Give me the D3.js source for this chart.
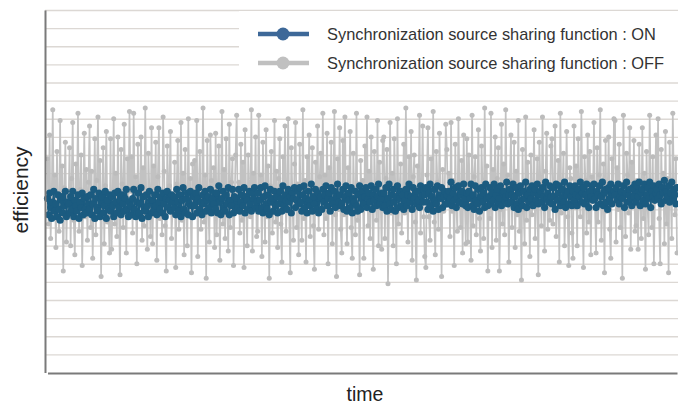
<!DOCTYPE html>
<html><head><meta charset="utf-8">
<script src="https://cdn.jsdelivr.net/npm/d3@7"></script>
<style>html,body{margin:0;padding:0;background:#fff;}svg{display:block;font-family:"Liberation Sans",Arial,Helvetica,sans-serif;}</style>
</head><body>
<script>
const seriesNames = ["Synchronization source sharing function : ON", "Synchronization source sharing function : OFF"];
const axisLabels = {x: "time", y: "efficiency"};
const gridTicks = [1,2,3,4,5,6,7,8,9,10,11,12,13,14,15,16,17,18,19,20];

const offValues = [
11.8,8.2,13.1,7.4,9.6,14.5,8.8,10.9,6.9,12.2,9.1,7.8,13.9,8.5,11.4,5.6,10.2,12.7,7.2,9.9,
9.2,12.4,7.0,10.7,13.8,8.4,6.5,11.5,9.9,14.3,7.8,10.1,12.0,5.9,9.4,13.2,8.6,11.2,7.3,10.5,
13.6,8.0,11.1,6.3,9.4,12.9,7.6,10.6,14.1,8.9,11.7,5.3,9.8,12.4,7.1,10.3,13.3,8.3,9.0,6.6,
12.9,6.8,9.7,14.0,8.2,11.0,7.5,13.0,9.1,5.4,12.3,10.4,8.0,13.7,9.5,6.6,11.8,8.9,14.4,10.0,
11.9,7.7,14.3,9.3,10.8,6.0,12.6,8.6,9.7,13.0,7.3,11.3,8.1,14.6,9.5,6.8,12.1,10.0,7.5,13.5,
7.1,11.4,9.3,12.7,6.2,10.8,13.5,8.5,9.8,7.6,14.1,11.1,8.1,5.6,12.5,9.6,10.3,13.3,7.4,9.0,
8.7,11.6,5.8,10.4,12.8,7.9,9.2,13.8,8.4,11.0,6.5,12.3,9.6,7.0,14.0,8.8,10.7,5.5,11.5,9.1,
11.7,8.7,13.9,6.4,10.2,12.2,7.9,9.5,14.6,8.3,10.9,5.2,12.8,9.2,7.2,13.1,10.6,8.8,11.3,6.9,
13.2,7.6,10.1,12.5,6.2,9.9,14.4,8.2,11.2,7.4,12.9,9.4,6.7,13.7,8.0,10.5,11.8,5.9,9.3,12.0,
14.2,9.0,10.5,7.7,12.6,8.4,11.6,5.8,13.4,9.7,7.0,12.0,10.1,8.6,14.5,6.7,11.0,9.3,13.0,7.5,
7.8,14.2,8.9,10.9,6.4,12.7,9.7,7.2,13.4,8.6,11.4,5.2,10.3,12.2,7.7,9.0,13.9,8.3,11.1,6.9,
10.7,12.9,8.2,6.1,11.9,9.4,13.6,7.8,10.0,14.0,8.9,5.5,12.4,9.9,7.3,11.5,13.8,8.0,10.4,6.5,
12.6,9.5,7.3,14.5,8.5,10.6,6.1,11.9,9.8,13.1,7.5,10.0,12.4,8.1,5.7,11.6,9.2,13.6,7.9,10.8,
12.1,9.1,14.3,7.6,10.9,8.5,13.2,6.0,11.3,9.6,12.7,7.1,10.2,14.4,8.7,5.3,11.8,9.0,13.5,7.9,
6.6,12.8,8.7,14.1,9.4,7.1,11.3,10.2,13.3,8.0,6.3,12.1,9.6,7.6,14.3,8.4,10.4,5.4,11.7,9.0,
10.6,6.3,12.5,9.3,14.1,8.1,11.1,7.4,13.0,9.8,5.7,12.2,10.0,8.4,13.9,7.0,11.6,9.5,6.8,12.8,
13.0,7.4,10.7,12.3,4.9,9.3,13.8,8.8,11.0,7.0,12.9,9.9,6.0,14.0,8.2,10.1,11.5,7.7,9.5,12.6,
8.8,14.6,10.3,7.2,11.9,9.1,13.3,6.2,10.8,12.0,8.3,5.1,11.4,9.7,14.2,7.7,10.1,13.6,8.6,6.4,
5.8,10.9,13.5,8.6,7.3,11.8,9.1,14.4,8.3,6.5,12.2,10.5,7.9,13.2,9.7,5.3,11.2,8.9,10.0,13.7,
12.3,9.4,11.0,7.5,13.8,8.9,10.6,5.9,12.6,9.2,7.8,14.0,10.4,8.0,11.7,6.6,13.1,9.6,7.1,12.9,
7.2,12.0,9.4,6.2,14.2,8.1,10.8,11.9,7.6,9.8,13.4,8.5,6.7,12.5,10.3,7.4,14.6,9.2,11.4,5.6,
10.2,8.5,14.3,6.9,11.2,9.9,13.0,7.3,10.7,12.4,5.6,9.0,13.7,8.2,11.5,7.6,14.5,9.5,10.9,6.1,
10.6,13.1,8.0,9.6,12.7,6.9,11.1,8.7,13.9,7.8,10.2,5.1,12.3,9.0,7.1,14.1,8.4,11.6,9.9,6.4,
12.0,8.7,10.0,13.4,7.4,9.3,11.8,5.4,12.7,10.5,8.1,14.1,9.8,6.7,11.1,13.2,7.9,10.3,8.4,12.5,
12.9,8.2,10.4,13.6,7.5,9.3,11.7,6.1,14.3,8.8,10.1,12.1,7.0,9.7,13.3,8.6,5.9,11.3,10.7,7.7,
6.3,13.6,9.1,11.4,7.0,12.9,10.1,8.6,14.4,9.4,5.8,11.9,10.6,7.7,13.1,8.3,12.2,6.5,10.8,9.7,
13.8,9.1,6.6,12.4,8.3,10.9,14.5,7.3,9.5,11.5,5.5,12.8,8.9,10.0,13.0,7.9,6.3,11.8,9.4,14.0,
13.9,7.2,11.3,9.0,12.6,8.0,10.4,5.2,14.2,9.6,7.5,12.1,10.9,8.8,13.5,6.8,11.6,9.2,12.8,7.8,
8.1,10.6,6.8,12.6,9.8,7.4,13.5,8.5,11.0,5.7,12.2,9.2,7.6,14.2,10.3,8.0,11.9,6.0,9.6,13.1,
10.0,14.0,8.5,6.0,12.3,9.5,11.0,7.1,13.3,8.2,10.7,5.5,12.7,9.9,7.4,14.3,10.2,8.7,11.8,6.6
];

const onValues = [
9.6,8.7,9.9,9.1,8.5,9.4,10.0,8.9,9.3,8.6,9.8,9.0,8.4,9.5,9.7,8.8,9.2,10.0,8.6,9.4,
9.3,8.8,9.7,9.0,10.0,8.6,9.5,9.2,8.9,9.8,8.5,9.4,9.1,9.9,8.7,9.6,9.0,8.8,9.7,9.3,
9.0,9.8,8.7,9.3,10.1,8.5,9.6,9.1,8.9,9.9,8.6,9.4,9.7,8.8,9.2,10.0,8.5,9.5,9.0,9.8,
8.9,9.7,9.2,8.6,9.9,9.4,8.8,10.0,9.1,9.5,8.7,9.8,9.3,8.9,9.6,10.1,9.0,8.6,9.4,9.2,
8.7,9.6,10.1,9.0,8.6,9.4,9.9,8.8,9.3,10.2,8.5,9.7,9.1,8.9,9.8,9.2,8.6,10.0,9.5,8.8,
9.5,8.9,9.8,9.2,8.7,10.1,9.4,9.0,9.7,8.8,9.9,9.3,8.6,9.6,10.0,9.1,9.5,8.9,9.8,9.4,
9.7,9.1,8.7,10.1,9.4,8.9,9.8,8.6,9.5,10.2,9.0,8.8,9.6,9.9,8.7,9.3,10.0,9.2,8.6,9.7,
9.2,9.9,8.8,9.6,10.2,9.0,9.4,8.7,9.8,9.3,10.0,8.9,9.5,9.7,9.1,10.1,8.8,9.6,9.3,9.9,
9.0,9.9,8.8,10.3,9.4,8.7,9.6,10.0,9.1,8.9,9.8,9.3,10.2,8.7,9.5,9.2,10.1,8.8,9.7,9.0,
9.6,9.1,10.1,8.9,9.4,9.8,9.2,10.2,8.8,9.7,9.5,9.0,10.0,9.3,8.9,9.9,9.6,10.2,9.1,9.4,
9.9,8.9,9.5,10.2,9.1,8.8,9.7,10.3,9.3,9.0,9.8,8.7,10.1,9.4,9.6,8.9,10.0,9.2,9.7,8.8,
9.3,10.0,9.6,8.9,10.3,9.2,9.8,9.5,9.0,10.1,9.4,9.7,8.8,9.9,9.6,10.2,9.1,9.5,10.0,9.3,
10.2,9.4,8.9,9.8,10.3,9.1,9.6,8.8,10.0,9.5,9.2,10.4,8.9,9.7,9.3,10.1,9.0,9.9,8.8,9.6,
9.7,9.0,10.1,9.4,9.8,10.3,9.2,9.6,9.9,8.9,10.2,9.5,9.3,10.0,9.1,9.7,10.4,9.4,9.8,9.2,
9.3,10.1,9.0,9.7,10.3,8.9,9.5,9.9,9.1,10.2,8.8,9.6,9.4,10.0,9.2,8.9,9.8,10.3,9.0,9.6,
10.0,9.3,9.7,10.2,9.1,9.6,9.9,9.4,10.3,9.0,9.8,9.5,10.1,9.2,9.7,10.4,9.3,9.6,9.9,9.1,
9.9,9.2,10.2,8.9,9.6,10.4,9.3,9.0,9.8,10.1,9.4,8.9,9.7,10.3,9.1,9.6,10.0,9.2,9.8,9.0,
9.5,10.1,9.2,9.8,10.4,9.4,9.7,9.0,10.2,9.6,9.9,9.3,10.0,9.5,9.1,10.3,9.7,9.4,10.1,9.8,
10.2,9.4,9.0,9.9,10.4,9.2,9.7,8.9,10.1,9.5,9.3,10.3,9.0,9.8,9.6,10.2,9.1,9.7,10.0,9.3,
9.8,9.3,10.0,9.6,10.5,9.2,9.9,9.5,10.2,9.1,9.7,10.3,9.4,9.8,10.0,9.3,10.4,9.6,9.2,9.9,
9.1,10.0,9.6,10.4,9.2,9.8,9.0,10.3,9.5,9.3,10.1,8.9,9.7,10.2,9.4,9.9,9.1,10.4,9.6,9.2,
9.7,10.2,9.3,9.9,9.5,10.4,9.1,9.8,10.1,9.4,9.6,10.3,9.2,9.9,10.0,9.5,9.7,10.5,9.3,9.8,
10.1,9.4,9.8,10.4,9.1,9.7,10.2,9.3,9.0,9.9,10.3,9.5,9.2,10.0,9.6,10.5,9.1,9.8,9.4,10.1,
9.6,10.3,9.2,9.9,10.1,9.5,10.4,9.3,9.8,10.0,9.4,10.2,9.7,9.1,10.5,9.6,9.9,9.4,10.3,9.7,
9.3,10.2,9.7,9.0,10.4,9.5,9.9,10.3,9.2,9.6,10.1,9.4,10.5,9.1,9.8,10.0,9.3,10.3,9.7,9.2,
10.0,9.5,10.3,9.8,9.2,10.1,9.7,10.5,9.4,9.9,10.2,9.3,9.8,10.4,9.6,9.1,10.0,9.7,10.3,9.5,
10.4,9.6,9.1,10.0,9.8,10.3,9.3,9.7,10.5,9.2,9.9,10.1,9.4,9.0,10.2,9.6,10.4,9.3,9.8,10.0,
9.8,10.2,9.5,10.4,9.3,9.7,10.0,9.6,10.3,9.1,9.9,10.5,9.4,9.8,10.1,9.6,9.2,10.2,9.7,10.4,
9.4,10.3,9.7,10.5,9.2,9.9,10.1,9.5,10.4,9.3,9.8,10.2,9.6,10.5,9.1,10.0,9.7,10.3,9.5,9.9,
10.1,9.6,10.4,9.8,9.3,10.2,9.9,10.6,9.5,10.0,9.7,10.3,9.4,9.9,10.5,9.6,10.1,9.8,9.3,10.2
];

const W = 678, H = 405;
const m = {left: 45, right: 0, top: 10, bottom: 32};
const svg = d3.select("body").append("svg").attr("width", W).attr("height", H);

const x = d3.scaleLinear().domain([0, offValues.length - 1]).range([47.5, 677]);
const y = d3.scaleLinear().domain([0, 20]).range([H - m.bottom - 0.5, m.top]);

// gridlines
svg.append("g").attr("class","grid")
  .attr("transform", `translate(${m.left},0)`)
  .call(d3.axisLeft(y).tickValues(gridTicks).tickSize(-(W - m.left)).tickFormat(""))
  .call(g => g.select(".domain").remove())
  .call(g => g.selectAll("line").attr("stroke", "#dcd8d4").attr("stroke-width", 1.4));

// OFF series
const line = d3.line().x((d,i) => x(i)).y(d => y(d));
svg.append("path").datum(offValues).attr("d", line)
  .attr("fill","none").attr("stroke","#c2c2c2").attr("stroke-width",1.7);
svg.append("g").selectAll("circle").data(offValues).join("circle")
  .attr("cx",(d,i)=>x(i)).attr("cy",d=>y(d)).attr("r",2.5).attr("fill","#bcbcbc");

// ON series
svg.append("path").datum(onValues).attr("d", line)
  .attr("fill","none").attr("stroke","#1b5b80").attr("stroke-width",1.6);
svg.append("g").selectAll("circle").data(onValues).join("circle")
  .attr("cx",(d,i)=>x(i)).attr("cy",d=>y(d)).attr("r",3.6).attr("fill","#1b5b80");

// axes
svg.append("g").attr("transform", `translate(0,${H - m.bottom})`)
  .call(d3.axisBottom(x).tickValues([]).tickSizeOuter(0))
  .call(g => g.select(".domain").attr("stroke","#7a7a7a").attr("stroke-width",2));
svg.append("g").attr("transform", `translate(${m.left},0)`)
  .call(d3.axisLeft(y).tickValues([]).tickSizeOuter(0))
  .call(g => g.select(".domain").attr("stroke","#7a7a7a").attr("stroke-width",2));

// legend
const lg = svg.append("g");
lg.append("rect").attr("x",239).attr("y",11).attr("width",W-239).attr("height",71).attr("fill","#fff");
const legendColors = ["#3d6898", "#c0c0c0"];
const ly = [34, 63];
seriesNames.forEach((name, i) => {
  lg.append("line").attr("x1",258).attr("x2",309).attr("y1",ly[i]).attr("y2",ly[i])
    .attr("stroke",legendColors[i]).attr("stroke-width",4.5);
  lg.append("circle").attr("cx",283).attr("cy",ly[i]).attr("r",6.5).attr("fill",legendColors[i]);
  lg.append("text").attr("x",327).attr("y",ly[i]+6).attr("font-size",16.4).attr("fill","#333").text(name);
});

// axis labels
svg.append("text").attr("x",365).attr("y",401).attr("text-anchor","middle")
  .attr("font-size",19.5).attr("fill","#222").text(axisLabels.x);
svg.append("text").attr("transform","translate(28,190) rotate(-90)").attr("text-anchor","middle")
  .attr("font-size",21).attr("fill","#222").text(axisLabels.y);
</script>
</body></html>
